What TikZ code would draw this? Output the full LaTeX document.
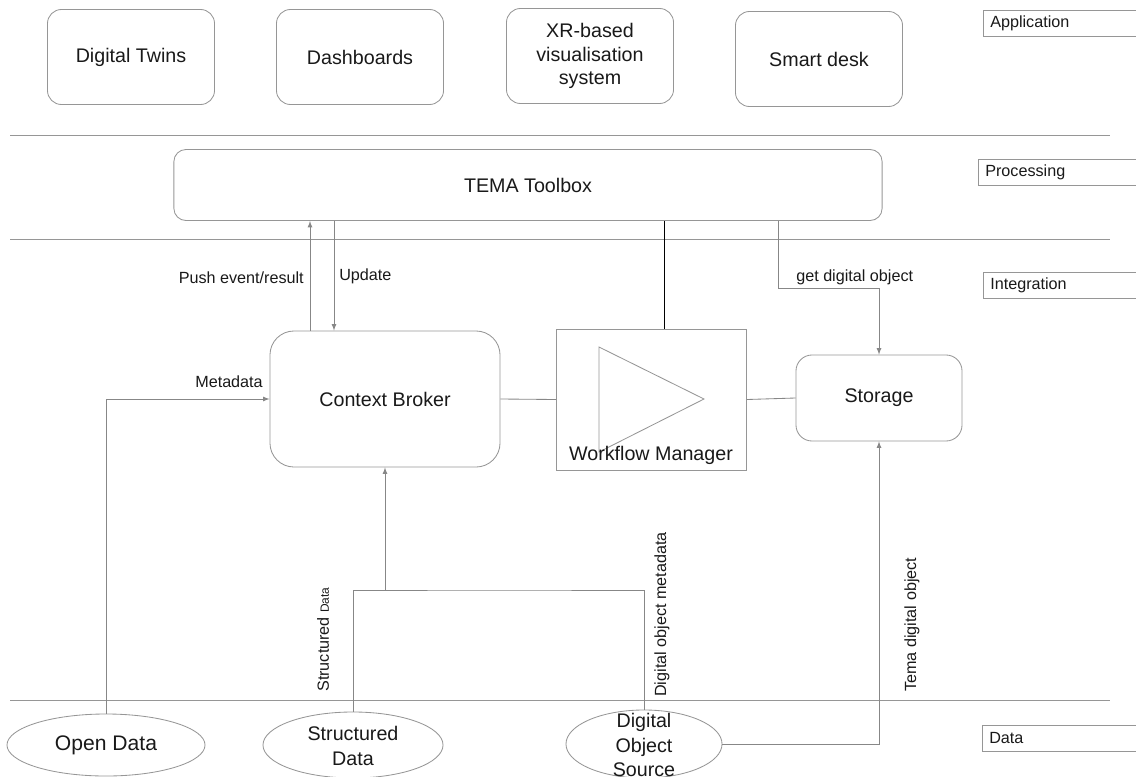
\documentclass[tikz,border=0pt]{standalone}
\usepackage{fontspec}
\setmainfont{Liberation Sans}
\usetikzlibrary{shapes.geometric}
\definecolor{linegray}{RGB}{135,135,135}
\definecolor{boxgray}{RGB}{150,150,150}
\definecolor{txt}{RGB}{25,25,25}
\tikzset{
    appbox/.style={draw=boxgray, line width=0.6pt, rounded corners=0.35cm, minimum width=4.175cm, minimum height=2.375cm, align=center, text=txt, font=\fontsize{14}{17}\selectfont},
    midbox/.style={draw=boxgray, line width=0.6pt, align=center, text=txt, font=\fontsize{14}{17}\selectfont},
    dataell/.style={draw=boxgray, line width=0.6pt, ellipse, inner sep=0pt},
    eltext/.style={align=center, text=txt, font=\fontsize{14}{17.5}\selectfont},
    lbl/.style={text=txt, inner sep=0pt, font=\fontsize{11.5}{13}\selectfont},
    conn/.style={draw=linegray, line width=0.6pt},
    layer/.style={draw=boxgray, line width=0.6pt},
}
\begin{document}
\begin{tikzpicture}[>=latex, x=0.025cm, y=-0.025cm]
\useasboundingbox (0,0) rectangle (1136,776);

% layer separators and layer names
\foreach \y in {135,239,700}
{
    \draw[layer] (10,\y)--(1110,\y);
}
\foreach \x/\y/\t/\n in {983/23/Application/lapp, 978/172/Processing/lproc, 983/285/Integration/lint, 982/738/Data/ldata}
{
    \draw[layer] (1140,\y-13)--(\x,\y-13)--(\x,\y+13)--(1140,\y+13);
    \node[lbl, anchor=west] (\n) at (\x+7,\y) {\t};
}

% application
\node[appbox] (dt) at (131,57) {Digital Twins};
\node[appbox] (db) at (360,57) {Dashboards};
\node[appbox] (xr) at (590,56) {XR-based\\visualisation\\system};
\node[appbox] (sd) at (819,59) {Smart desk};

% processing
\node[midbox, rounded corners=0.3cm, minimum width=17.7cm, minimum height=1.775cm] (tema) at (528,185) {TEMA Toolbox};

% integration
\node[midbox, rounded corners=0.6cm, minimum width=5.75cm, minimum height=3.4cm] (cb) at (385,399) {Context Broker};
\node[midbox, minimum width=4.75cm, minimum height=3.525cm] (wf) at (651.5,399.5) {};
\draw[draw=boxgray, line width=0.6pt] (599,347)--(599,452)--(704,399)--cycle;
\node[eltext, inner sep=0pt] (wft) at (651,455) {Workflow Manager};
\node[midbox, rounded corners=0.4cm, minimum width=4.15cm, minimum height=2.15cm] (st) at (879,398) {Storage};

% data
\node[dataell, minimum width=4.95cm, minimum height=1.55cm] (od) at (106,745) {};
\node[eltext, font=\fontsize{15}{18}\selectfont] (odt) at (od) {Open Data};
\node[dataell, minimum width=4.5cm, minimum height=1.65cm] (sdat) at (353,745) {};
\node[eltext] (sdatt) at (353,746) {Structured\\Data};
\node[dataell, minimum width=3.9cm, minimum height=1.7cm] (dos) at (644,744) {};
\node[eltext] (dost) at (644,745) {Digital\\Object\\Source};

\coordinate (px) at (310,0);
\coordinate (ux) at (334,0);
\coordinate (wx) at (664,0);
\coordinate (gb) at (778,288);
\coordinate (jn) at (500,590);

% connectors
\draw[conn, ->] (cb.north -| px)--(tema.south -| px);
\draw[conn, ->] (tema.south -| ux)--(cb.north -| ux);
\draw[line width=0.6pt] (wf.north -| wx)--(tema.south -| wx);
\draw[conn, ->] (tema.south -| gb)--(gb) -| (st.north);
\draw[conn] (cb.east)--(wf.west);
\draw[conn] (wf.east)--(st.west);
\draw[conn, ->] (od.north) |- (cb.west);
\draw[conn] (sdat.north) |- (jn) -| (dos.north);
\draw[conn, ->] (cb.south |- jn)--(cb.south);
\draw[conn, ->] (dos.east) -| (st.south);

% labels
\node[lbl, anchor=east] (lpush) at (304,278) {Push event/result};
\node[lbl, anchor=west] (lupd) at (339,276) {Update};
\node[lbl, anchor=east] (lmeta) at (263,382) {Metadata};
\node[lbl, anchor=west] (lget) at (796,277) {get digital object};
\node[lbl, rotate=90, anchor=west] (lsd) at (323,692) {Structured {\fontsize{8.5}{10}\selectfont Data}};
\node[lbl, rotate=90, anchor=west] (ldom) at (662,697) {Digital object metadata};
\node[lbl, rotate=90, anchor=west] (ltdo) at (912,692) {Tema digital object};
\end{tikzpicture}
\end{document}
